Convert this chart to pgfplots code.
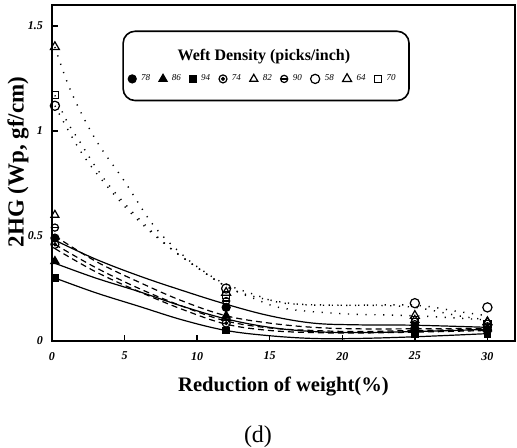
\documentclass[border=0pt]{standalone}
\usepackage{fontspec}
\setmainfont{Liberation Serif}
\usepackage{pgfplots}
\pgfplotsset{compat=1.18}
\pgfdeclareplotmark{odot}{%
  \pgfpathcircle{\pgfpointorigin}{\pgfplotmarksize}\pgfusepathqstroke
  \pgfpathcircle{\pgfpointorigin}{0.35\pgfplotmarksize}\pgfusepathqfillstroke}
\pgfdeclareplotmark{ominus}{%
  \pgfpathcircle{\pgfpointorigin}{\pgfplotmarksize}\pgfusepathqstroke
  \pgfpathmoveto{\pgfpoint{-\pgfplotmarksize}{0pt}}\pgfpathlineto{\pgfpoint{\pgfplotmarksize}{0pt}}\pgfusepathqstroke}
\begin{document}
\begin{tikzpicture}
\begin{axis}[
  scale only axis, width=231.5pt, height=168pt,
  xmin=0, xmax=31.9, ymin=0, ymax=1.6,
  xtick={0,5,10,15,20,25,30}, ytick={0,0.5,1,1.5},
  xtick pos=left, ytick pos=left, tick align=inside,
  major tick length=3pt,
  axis line style={line width=0.8pt}, tick style={line width=0.7pt, black},
  /pgf/number format/assume math mode=true,
  ticklabel style={font=\fontsize{6}{7}\selectfont\bfseries\itshape},
  xticklabel style={yshift=-2pt},
  yticklabel style={xshift=-1pt},
  legend columns=9,
  legend style={at={(axis cs:14.6,1.248)}, anchor=center, draw=none, fill=none,
    font=\fontsize{4.5}{5}\selectfont\itshape, inner sep=0pt,
    /tikz/every odd column/.append style={column sep=0.5pt},
    /tikz/every even column/.append style={column sep=2.4pt}},
  legend image code/.code={\draw[mark repeat=2,mark phase=2] plot coordinates {(0cm,0cm) (0.07cm,0cm) (0.14cm,0cm)};},
  fit/.style={black, line width=0.6pt, smooth, tension=0.6, no marks, forget plot},
  dots/.style={black, line width=0.7pt, smooth, tension=0.6, no marks, forget plot, dash pattern=on 0.6pt off 3.8pt},
  dsh/.style={black, line width=0.6pt, smooth, tension=0.6, no marks, forget plot, dash pattern=on 3pt off 2pt},
  pts/.style={black, only marks, line width=0.6pt},
]
% fitted curves: solid
\addplot[fit] coordinates {(0.2,0.48) (3,0.39) (6,0.31) (9,0.24) (12,0.175) (15,0.12) (18,0.085) (21,0.077) (25,0.075) (30,0.065)};
\addplot[fit] coordinates {(0.2,0.37) (3,0.30) (6,0.235) (9,0.165) (12,0.105) (15,0.065) (18,0.045) (21,0.04) (25,0.045) (30,0.055)};
\addplot[fit] coordinates {(0.2,0.30) (3,0.23) (6,0.165) (9,0.10) (12,0.05) (15,0.025) (18,0.012) (21,0.012) (25,0.02) (30,0.035)};
% dashed
\addplot[dsh] coordinates {(0.2,0.50) (3,0.38) (6,0.28) (9,0.19) (12,0.12) (15,0.085) (18,0.065) (21,0.058) (25,0.058) (30,0.06)};
\addplot[dsh] coordinates {(0.2,0.46) (3,0.35) (6,0.25) (9,0.165) (12,0.095) (15,0.062) (18,0.05) (21,0.045) (25,0.05) (30,0.055)};
\addplot[dsh] coordinates {(0.2,0.44) (3,0.33) (6,0.235) (9,0.15) (12,0.08) (15,0.05) (18,0.04) (21,0.038) (25,0.042) (30,0.05)};
% dotted
\addplot[dots] coordinates {(0.2,1.40) (1.3,1.19) (3,0.96) (5,0.76) (7,0.55) (9,0.41) (10.5,0.33) (12,0.27) (14,0.22) (16,0.18) (20,0.17) (22,0.17) (25,0.16) (28,0.12) (30,0.10)};
\addplot[dots] coordinates {(0.2,1.17) (1,1.05) (2,0.94) (3,0.83) (4.3,0.71) (6.3,0.56) (8.2,0.44) (10,0.35) (12,0.26) (14,0.2) (16,0.155) (20,0.13) (25,0.12) (30,0.10)};
\addplot[dots] coordinates {(0.2,1.12) (2,0.90) (4,0.72) (6,0.57) (8,0.45) (10,0.35) (12,0.26) (14,0.21) (17,0.175) (20,0.17) (25,0.17) (28,0.14) (30,0.12)};
% data points
\addplot[pts, mark=*, mark size=2pt] coordinates {(0.2,0.49) (12,0.16) (25,0.05) (30,0.05)};
\addlegendentry{78}
\addplot[pts, mark=triangle*, mark size=2.3pt] coordinates {(0.2,0.38) (12,0.12) (25,0.06) (30,0.06)};
\addlegendentry{86}
\addplot[pts, mark=square*, mark size=1.6pt] coordinates {(0.2,0.30) (12,0.05) (25,0.03) (30,0.03)};
\addlegendentry{94}
\addplot[pts, mark=odot, mark size=2pt] coordinates {(0.2,0.46) (12,0.085) (25,0.06) (30,0.055)};
\addlegendentry{74}
\addplot[pts, mark=triangle, mark size=2.3pt] coordinates {(0.2,0.60) (12,0.11) (25,0.10) (30,0.09)};
\addlegendentry{82}
\addplot[pts, mark=ominus, mark size=1.8pt] coordinates {(0.2,0.54) (12,0.19) (25,0.08) (30,0.07)};
\addlegendentry{90}
\addplot[pts, mark=o, mark size=2.3pt] coordinates {(0.2,1.12) (12,0.25) (25,0.18) (30,0.16)};
\addlegendentry{58}
\addplot[pts, mark=triangle, mark size=2.6pt] coordinates {(0.2,1.40) (12,0.23) (25,0.12) (30,0.09)};
\addlegendentry{64}
\addplot[pts, mark=square, mark size=1.8pt] coordinates {(0.2,1.17) (12,0.22) (25,0.10) (30,0.08)};
\addlegendentry{70}
% legend box and title
\draw[line width=0.8pt, rounded corners=6pt] (axis cs:4.9,1.145) rectangle (axis cs:24.6,1.475);
\node[font=\fontsize{8}{9}\selectfont\bfseries] at (axis cs:14.6,1.352) {Weft Density (picks/inch)};
\coordinate (LL) at (rel axis cs:0,0);
\coordinate (UR) at (rel axis cs:1,1);
\coordinate (XL) at (rel axis cs:0.5,0);
\coordinate (YL) at (rel axis cs:0,0.5);
\end{axis}
\node[font=\fontsize{10.3}{12}\selectfont\bfseries] at ([yshift=-23pt]XL) {Reduction of weight(\%)};
\node[font=\fontsize{12}{14}\selectfont] at ([xshift=-12.75pt,yshift=-48pt]XL) {(d)};
\node[font=\fontsize{11.5}{14}\selectfont\bfseries, rotate=90] at ([xshift=-17pt,yshift=5.5pt]YL) {2HG (Wp, gf/cm)};
\pgfresetboundingbox
\path ([shift={(-26pt,-53.5pt)}]LL) rectangle ([shift={(1pt,2.5pt)}]UR);
\end{tikzpicture}
\end{document}
